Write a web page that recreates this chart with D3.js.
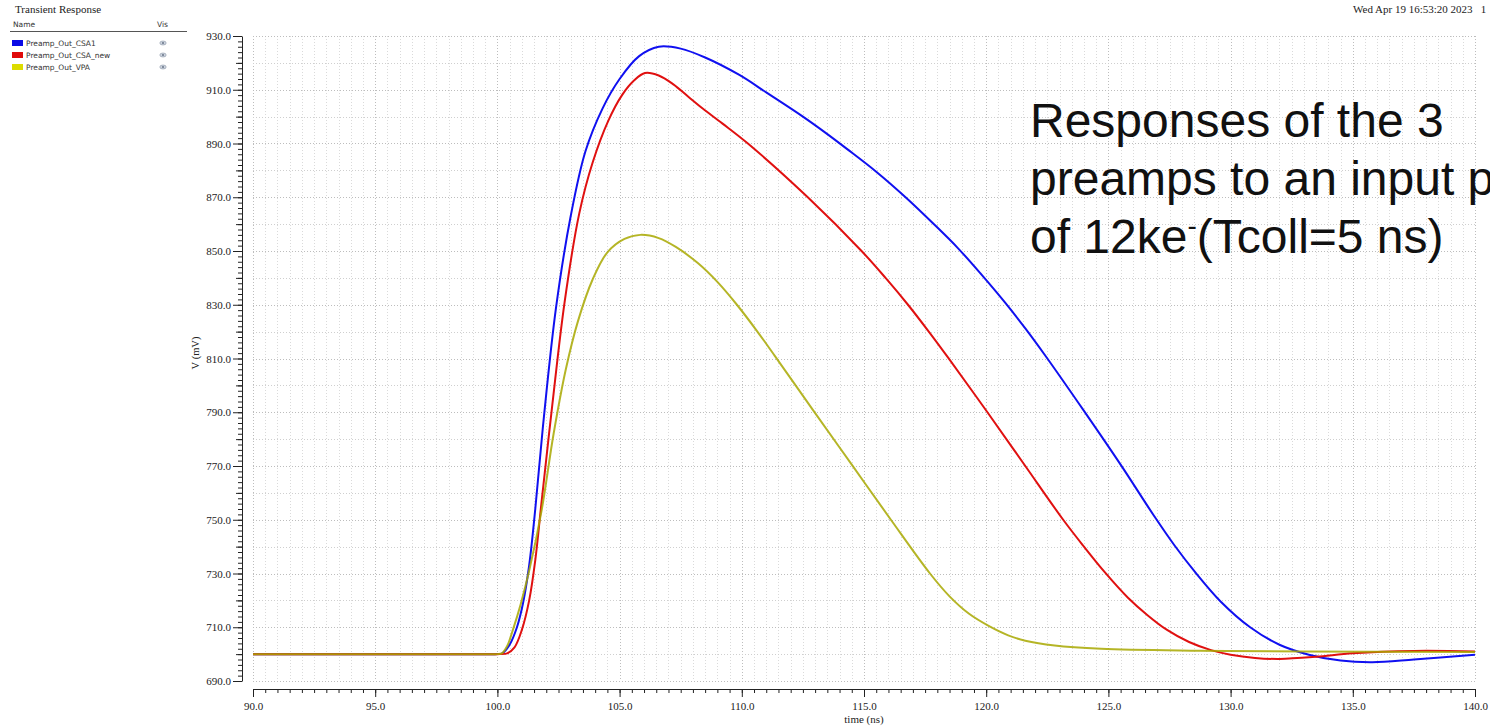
<!DOCTYPE html>
<html>
<head>
<meta charset="utf-8">
<script src="https://cdn.jsdelivr.net/npm/d3@7"></script>
<style>
  html, body { margin: 0; padding: 0; background: #fff; }
  svg { display: block; }
  .serif { font-family: "Liberation Serif", "Times New Roman", serif; }
  .sans { font-family: "DejaVu Sans", sans-serif; }
</style>
</head>
<body>
<svg id="chart" width="1490" height="726"></svg>
<script>
// Transient simulation waveforms: [time (ns), voltage (mV)]
const csa1 = [
  [90, 700], [95, 700], [99, 700], [99.7, 700], [100, 700], [100.2, 700.3], [100.5, 703.5],
  [100.8, 710], [101.05, 719], [101.3, 733], [101.55, 754], [101.9, 788], [102.4, 829],
  [103.0, 863], [103.6, 887], [104.3, 903], [105.0, 914], [105.8, 922.5], [106.6, 926],
  [107.5, 925.3], [108.5, 922], [109.9, 915.5], [111.0, 909], [112.5, 900], [113.5, 893.5],
  [114.3, 888], [115.5, 879.5], [116.7, 870], [117.8, 860.5], [118.85, 851], [119.8, 841.3],
  [120.8, 830.5], [121.6, 821.2], [122.4, 811.3], [124.0, 790.5], [125.5, 770.5], [126.9, 751],
  [127.7, 740.5], [128.55, 730.5], [129.6, 719.5], [130.8, 710], [132.0, 703.5], [133.2, 699.8],
  [134.5, 697.6], [135.8, 697], [137.5, 698], [140, 699.8]
];
const csaNew = [
  [90, 700], [95, 700], [99, 700], [99.8, 700], [100.1, 700], [100.4, 700.3], [100.7, 702.5],
  [101.0, 709], [101.3, 720], [101.55, 735], [101.8, 756], [102.25, 793], [102.75, 831],
  [103.35, 864], [103.9, 883], [104.54, 898.5], [105.1, 908], [105.6, 913.5], [106.04, 916.2],
  [106.6, 915.3], [107.2, 912], [107.8, 907.5], [108.4, 903], [109.2, 897.5], [110.25, 890],
  [112.7, 870], [114.9, 850], [115.9, 839.8], [116.8, 830], [117.65, 820], [118.45, 810.2],
  [120.05, 790], [121.6, 770], [123.15, 750], [124.0, 740], [124.85, 730.5], [125.8, 721],
  [126.6, 714.5], [127.4, 709], [128.3, 704.5], [129.2, 701.5], [130.0, 699.8], [131.0, 698.6],
  [132.0, 698.2], [133.5, 699], [135.0, 700.3], [137.5, 701.2], [140, 701]
];
const vpa = [
  [90, 700], [95, 700], [99, 700], [99.7, 700], [100, 700], [100.2, 700.4], [100.4, 703],
  [100.65, 709.5], [100.95, 718.5], [101.3, 731], [101.8, 753], [102.3, 782], [102.8, 806],
  [103.3, 824], [103.9, 839.5], [104.5, 849.5], [105.2, 854.5], [105.85, 856], [106.6, 854.8],
  [107.3, 851.5], [108.2, 845.5], [109.0, 838.5], [109.8, 830], [110.6, 820.5], [111.35, 811],
  [112.9, 791], [114.5, 770.5], [116.1, 750], [117.7, 730], [118.5, 721.5], [119.3, 715],
  [120.1, 710.5], [120.9, 707], [121.6, 705], [122.8, 703.2], [124.7, 702], [128.7, 701.3],
  [133.0, 701], [140, 700.8]
];

const seriesNames = ["Preamp_Out_CSA1", "Preamp_Out_CSA_new", "Preamp_Out_VPA"];
const seriesData = [csa1, csaNew, vpa];
const lineColors = ["#1010f0", "#e01010", "#a8a800"];
const swatchColors = ["#0a0ae6", "#e00a0a", "#dcdc00"];

const xMajorTicks = d3.range(90, 140.001, 5);
const yMajorTicks = d3.range(690, 930.001, 20);

const annotationLines = ["Responses of the 3", "preamps to an input p"];
const annotationLast = ["of 12ke", "-", "(Tcoll=5 ns)"];

const svg = d3.select("#chart");

const x = d3.scaleLinear().domain([90, 140]).range([253, 1475]);
const y = d3.scaleLinear().domain([690, 930]).range([681, 36]);

// header
svg.append("text").attr("class", "serif").attr("x", 15).attr("y", 13)
  .attr("font-size", 11).attr("fill", "#222").text("Transient Response");
svg.append("text").attr("class", "serif").attr("x", 1353).attr("y", 13)
  .attr("font-size", 11).attr("fill", "#222").attr("xml:space", "preserve")
  .text("Wed Apr 19 16:53:20 2023   1");

// legend table
svg.append("text").attr("class", "sans").attr("x", 13).attr("y", 27)
  .attr("font-size", 7.5).attr("fill", "#333").text("Name");
svg.append("text").attr("class", "sans").attr("x", 157).attr("y", 27)
  .attr("font-size", 7.5).attr("fill", "#333").text("Vis");
svg.append("line").attr("x1", 10).attr("x2", 187).attr("y1", 31.5).attr("y2", 31.5)
  .attr("stroke", "#555").attr("stroke-width", 1);

const legendRow = svg.append("g").selectAll("g").data(seriesNames).join("g")
  .attr("transform", (d, i) => `translate(0,${43 + i * 12})`);
legendRow.append("rect").attr("x", 12).attr("y", -3).attr("width", 11).attr("height", 6)
  .attr("fill", (d, i) => swatchColors[i]);
legendRow.append("text").attr("class", "sans").attr("x", 26).attr("y", 2.6)
  .attr("font-size", 7.5).attr("fill", "#333").text(d => d);
legendRow.append("ellipse").attr("cx", 163).attr("cy", 0).attr("rx", 3.2).attr("ry", 2)
  .attr("fill", "#cfd6e0").attr("stroke", "#8a96a6").attr("stroke-width", 0.6);
legendRow.append("circle").attr("cx", 163).attr("cy", 0).attr("r", 1.1).attr("fill", "#6d7a8c");

// grid
const grid = svg.append("g").attr("stroke-dasharray", "1,2").attr("stroke-width", 1);
grid.selectAll("line.v").data(d3.range(90, 140.001, 0.5)).join("line")
  .attr("x1", d => Math.round(x(d)) + 0.5).attr("x2", d => Math.round(x(d)) + 0.5)
  .attr("y1", y(930)).attr("y2", y(690))
  .attr("stroke", d => (d % 5 === 0 ? "#bdbdbd" : "#dadada"));
grid.selectAll("line.h").data(d3.range(690, 930.001, 10)).join("line")
  .attr("x1", x(90)).attr("x2", x(140))
  .attr("y1", d => Math.round(y(d)) + 0.5).attr("y2", d => Math.round(y(d)) + 0.5)
  .attr("stroke", d => (d % 20 === 10 ? "#bdbdbd" : "#cfcfcf"));

// x axis
const xAxisY = 689;
const styleAxis = g => {
  g.select(".domain").attr("stroke", "#222");
  g.selectAll(".tick line").attr("stroke", "#222");
  g.selectAll(".tick text").attr("class", "serif").attr("fill", "#222").attr("font-size", 11);
};
svg.append("g").attr("transform", `translate(0,${xAxisY})`)
  .call(d3.axisBottom(x).tickValues(d3.range(90, 140.001, 0.5)).tickSize(4).tickSizeOuter(0).tickFormat(""))
  .call(g => g.select(".domain").remove())
  .call(styleAxis);
svg.append("g").attr("transform", `translate(0,${xAxisY})`)
  .call(d3.axisBottom(x).tickValues(xMajorTicks).tickSize(8).tickSizeOuter(0)
    .tickPadding(5).tickFormat(d3.format(".1f")))
  .call(styleAxis);

// y axis
const yAxisX = 242;
svg.append("g").attr("transform", `translate(${yAxisX},0)`)
  .call(d3.axisLeft(y).tickValues(d3.range(690, 930.001, 2)).tickSize(4).tickSizeOuter(0).tickFormat(""))
  .call(g => g.select(".domain").remove())
  .call(styleAxis);
svg.append("g").attr("transform", `translate(${yAxisX},0)`)
  .call(d3.axisLeft(y).tickValues(d3.range(700, 930, 20)).tickSize(6).tickSizeOuter(0).tickFormat(""))
  .call(g => g.select(".domain").remove())
  .call(styleAxis);
svg.append("g").attr("transform", `translate(${yAxisX},0)`)
  .call(d3.axisLeft(y).tickValues(yMajorTicks).tickSize(9).tickSizeOuter(0)
    .tickPadding(2).tickFormat(d3.format(".1f")))
  .call(styleAxis);

// axis titles
svg.append("text").attr("class", "serif").attr("font-size", 10.5).attr("fill", "#222")
  .attr("text-anchor", "middle").attr("transform", "translate(199,353) rotate(-90)")
  .text("V (mV)");
svg.append("text").attr("class", "serif").attr("font-size", 11).attr("fill", "#222")
  .attr("text-anchor", "middle").attr("x", 864).attr("y", 723).text("time (ns)");

// waveforms
const line = d3.line().x(d => x(d[0])).y(d => y(d[1])).curve(d3.curveCatmullRom.alpha(0.5));
svg.append("g").selectAll("path").data(seriesData).join("path")
  .attr("d", line).attr("fill", "none")
  .attr("stroke", (d, i) => lineColors[i])
  .attr("stroke-opacity", (d, i) => (i === 2 ? 0.85 : 1))
  .attr("stroke-width", 2).attr("stroke-linejoin", "round");

// annotation
const note = svg.append("g").attr("font-family", "'Liberation Sans', Arial, sans-serif")
  .attr("font-size", 48).attr("fill", "#111");
annotationLines.forEach((t, i) => {
  note.append("text").attr("x", 1030).attr("y", 137 + i * 58).text(t);
});
const last = note.append("text").attr("x", 1030).attr("y", 253);
last.append("tspan").text(annotationLast[0]);
last.append("tspan").attr("font-size", 28).attr("dy", -18).text(annotationLast[1]);
last.append("tspan").attr("dy", 18).text(annotationLast[2]);
</script>
</body>
</html>
